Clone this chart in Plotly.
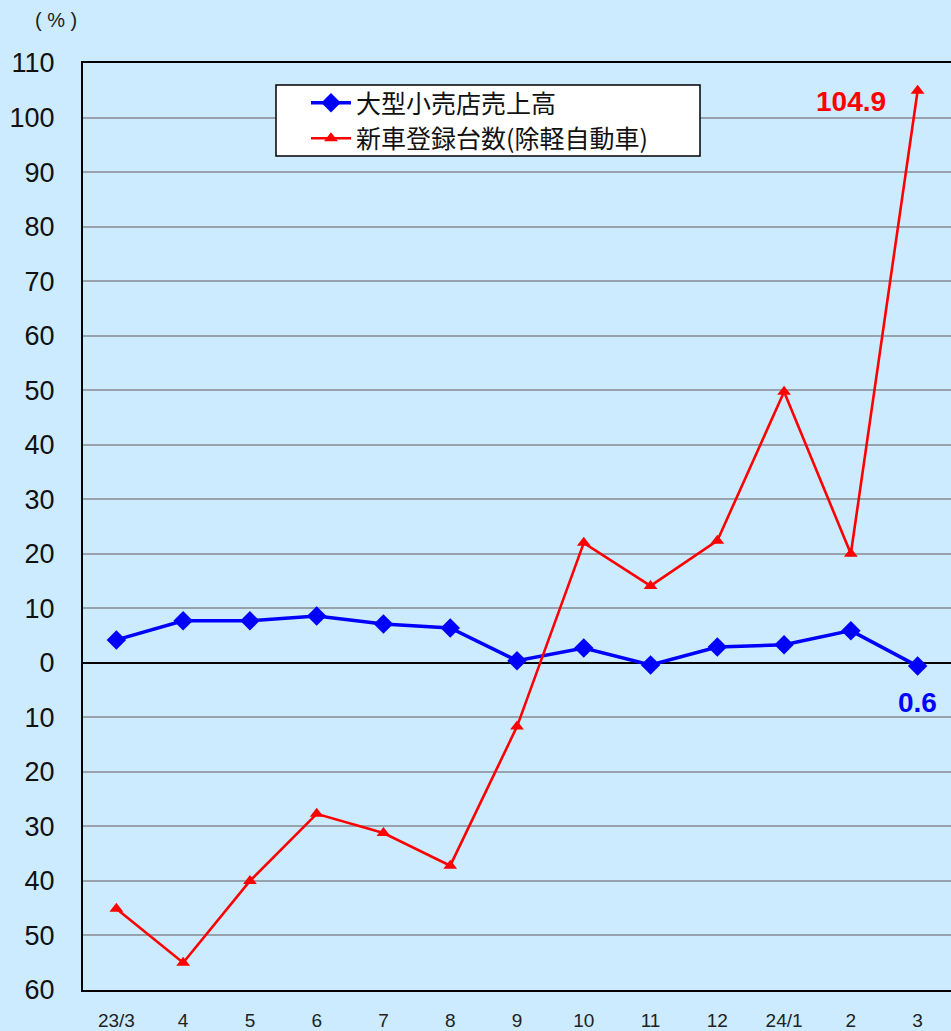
import plotly.graph_objects as go

categories = ["23/3", "4", "5", "6", "7", "8", "9", "10", "11", "12", "24/1", "2", "3"]
retail_sales = [4.2, 7.7, 7.7, 8.6, 7.1, 6.4, 0.4, 2.7, -0.4, 2.9, 3.3, 5.9, -0.6]
car_registrations = [-45.1, -55.0, -40.0, -27.7, -31.2, -37.2, -11.7, 22.0, 14.1, 22.4, 49.7, 20.0, 104.9]
series_names = ["大型小売店売上高", "新車登録台数(除軽自動車)"]
y_ticks = list(range(-60, 111, 10))
y_tick_text = [str(abs(v)) for v in y_ticks]

BG = "#CCEBFF"
SANS = "Liberation Sans, Arial, sans-serif"

fig = go.Figure()
fig.add_trace(go.Scatter(
    x=categories, y=retail_sales, name=series_names[0], mode="lines+markers",
    line=dict(color="#0000FF", width=3.5),
    marker=dict(symbol="diamond", size=15, color="#0000FF"),
    cliponaxis=False,
))
fig.add_trace(go.Scatter(
    x=categories, y=car_registrations, name=series_names[1], mode="lines+markers",
    line=dict(color="#FF0000", width=2.6),
    marker=dict(symbol="triangle-up", size=12, color="#FF0000"),
    cliponaxis=False,
))

# value labels (category index used as x position)
fig.add_annotation(x=11, y=car_registrations[12], text="<b>104.9</b>",
                   showarrow=False, yshift=-11,
                   font=dict(family=SANS, size=28, color="#FF0000"))
fig.add_annotation(x=12, y=retail_sales[12], text="<b>" + str(abs(retail_sales[12])) + "</b>",
                   showarrow=False, yshift=-36,
                   font=dict(family=SANS, size=28, color="#0000FF"))
fig.add_annotation(xref="paper", yref="paper", x=(56 - 83) / 868, y=(990 - 20) / 927,
                   text="( % )", showarrow=False, xanchor="center", yanchor="middle",
                   font=dict(family=SANS, size=20, color="#222222"))

# legend frame
fig.add_shape(type="rect", xref="paper", yref="paper",
              x0=(276 - 83) / 868, x1=(700 - 83) / 868,
              y0=(990 - 156) / 927, y1=(990 - 85) / 927,
              fillcolor="white", line=dict(color="black", width=1.5), layer="above")

fig.update_layout(
    width=951, height=1031,
    margin=dict(l=83, r=0, t=63, b=41),
    paper_bgcolor=BG, plot_bgcolor=BG,
    showlegend=True,
    legend=dict(x=(306 - 83) / 868, y=(990 - 80) / 927, xanchor="left", yanchor="top",
                bgcolor="rgba(0,0,0,0)", borderwidth=0,
                font=dict(family="Noto Sans CJK JP", size=25, color="#111111"),
                tracegroupgap=0, itemwidth=40),
    xaxis=dict(type="category", range=[-0.5, len(categories) - 0.5],
               showgrid=False, showline=True, linecolor="black",
               linewidth=2, mirror=True, ticks="", ticklabelstandoff=12, automargin=False,
               tickfont=dict(family=SANS, size=19, color="#222222")),
    yaxis=dict(range=[-60, 110], tickvals=y_ticks, ticktext=y_tick_text,
               showgrid=True, gridcolor="#98A2AC", gridwidth=2,
               zeroline=True, zerolinecolor="black", zerolinewidth=2,
               showline=True, linecolor="black", linewidth=2, mirror=True,
               ticks="", ticklabelstandoff=21, automargin=False,
               tickfont=dict(family=SANS, size=27, color="#111111")),
)

fig.write_html("out.html", config={"displayModeBar": False},
               post_script="document.body.style.margin='0';document.body.style.overflow='hidden';")
